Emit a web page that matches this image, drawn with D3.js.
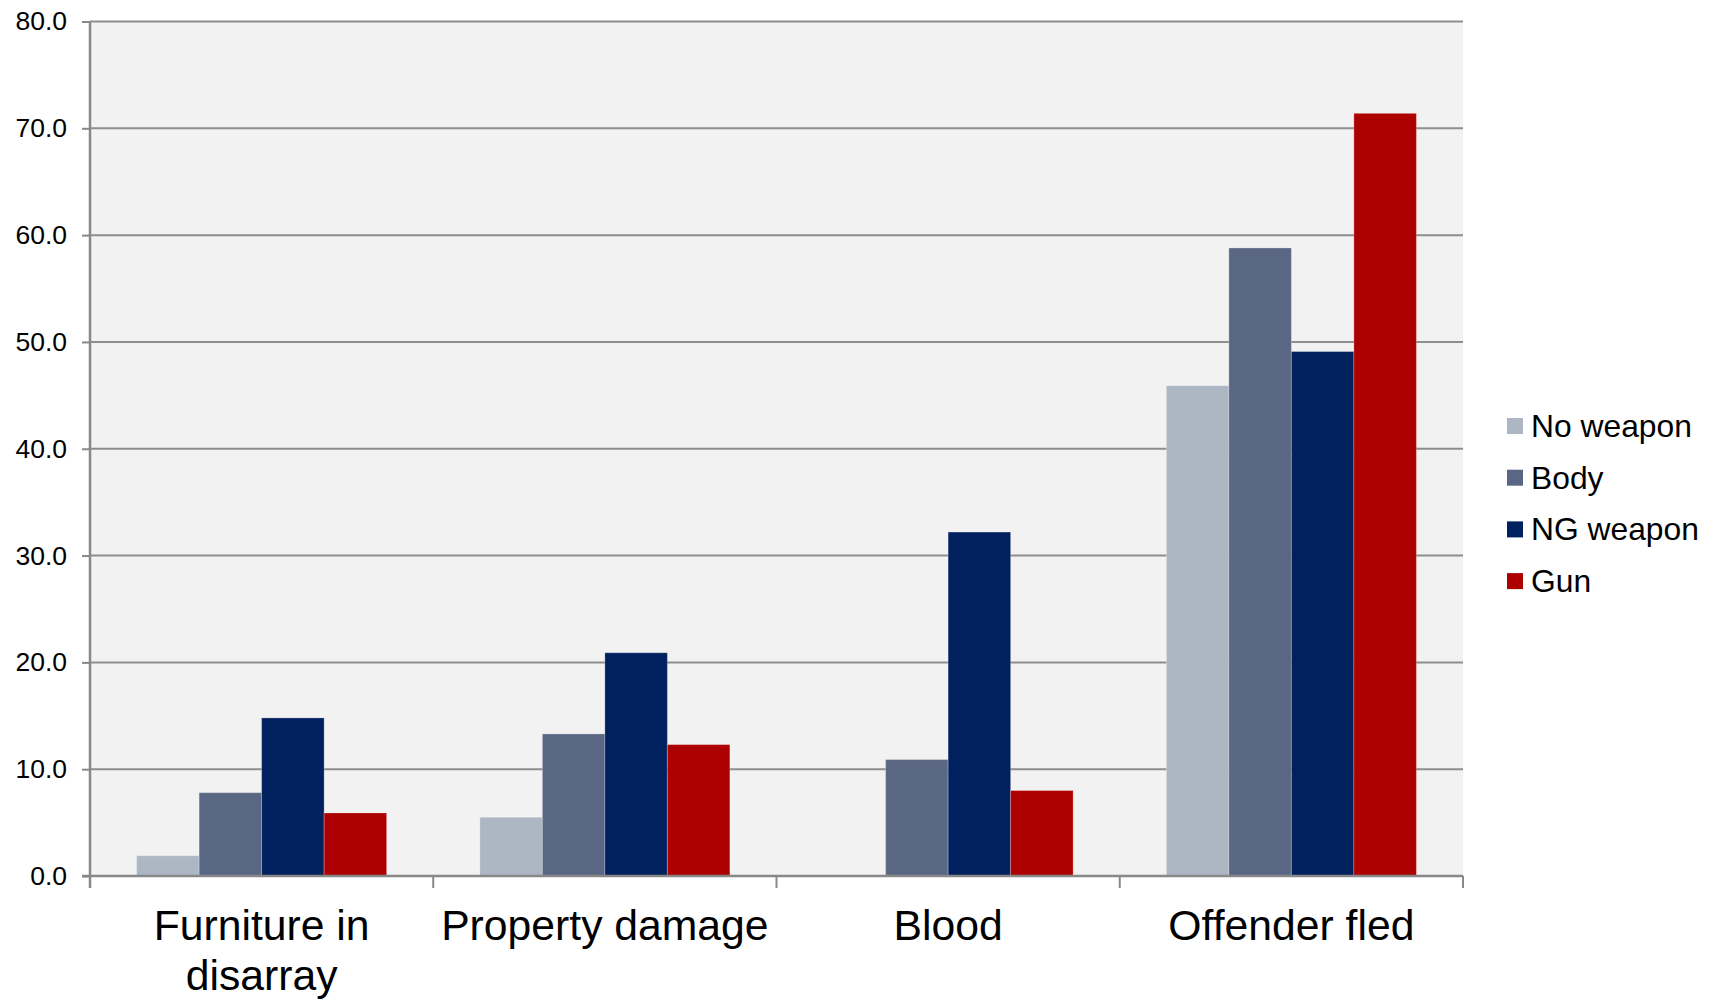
<!DOCTYPE html>
<html>
<head>
<meta charset="utf-8">
<script src="https://cdn.jsdelivr.net/npm/d3@7"></script>
<style>
  html, body { margin: 0; padding: 0; background: #ffffff; }
  svg { display: block; font-family: "Liberation Sans", Arial, sans-serif; }
</style>
</head>
<body>
<svg id="chart" width="1713" height="1000"></svg>
<script>
const categories = [["Furniture in", "disarray"], ["Property damage"], ["Blood"], ["Offender fled"]];
const categoryKeys = ["Furniture in disarray", "Property damage", "Blood", "Offender fled"];
const seriesNames = ["No weapon", "Body", "NG weapon", "Gun"];
const seriesColors = ["#adb7c3", "#5a6784", "#00205e", "#ad0000"];
const noWeapon = [1.9, 5.5, 0, 45.9];
const body = [7.8, 13.3, 10.9, 58.8];
const ngWeapon = [14.8, 20.9, 32.2, 49.1];
const gun = [5.9, 12.3, 8.0, 71.4];
const yTicks = [0, 10, 20, 30, 40, 50, 60, 70, 80];

const seriesValues = [noWeapon, body, ngWeapon, gun];
const data = categoryKeys.map((c, i) => ({
  key: c,
  values: seriesNames.map((s, j) => ({ series: s, value: seriesValues[j][i], color: seriesColors[j] }))
}));

const svg = d3.select("#chart");
const pL = 90, pR = 1463, pT = 21.5, pB = 876;

const x0 = d3.scaleBand().domain(categoryKeys).range([pL, pR]).paddingInner(0).paddingOuter(0);
const x1 = d3.scaleBand().domain(seriesNames).range([0, x0.bandwidth()]).paddingInner(0).paddingOuter(0.746);
const y = d3.scaleLinear().domain([0, 80]).range([pB, pT]);

// plot background
svg.append("rect").attr("x", pL).attr("y", pT).attr("width", pR - pL).attr("height", pB - pT)
  .attr("fill", "#f2f2f2");

// gridlines
svg.append("g").selectAll("line").data(yTicks.filter(d => d > 0)).join("line")
  .attr("x1", pL).attr("x2", pR)
  .attr("y1", d => y(d)).attr("y2", d => y(d))
  .attr("stroke", "#8e8e8e").attr("stroke-width", 2);

// bars
const groups = svg.append("g").selectAll("g").data(data).join("g")
  .attr("transform", d => `translate(${x0(d.key)},0)`);
groups.selectAll("rect").data(d => d.values.filter(v => v.value > 0)).join("rect")
  .attr("x", d => x1(d.series))
  .attr("width", x1.bandwidth())
  .attr("y", d => y(d.value))
  .attr("height", d => y(0) - y(d.value))
  .attr("fill", d => d.color)
  .attr("stroke", "rgba(255,255,255,0.25)")
  .attr("stroke-width", 1);

// y axis
const yAxis = d3.axisLeft(y).tickValues(yTicks).tickFormat(d3.format(".1f")).tickSize(8).tickPadding(15);
const gy = svg.append("g").attr("transform", `translate(${pL},0)`).call(yAxis);
gy.select(".domain").remove();
gy.selectAll(".tick line").attr("stroke", "#888888").attr("stroke-width", 2);
gy.selectAll(".tick text").attr("font-size", 26.5).attr("fill", "#000").attr("font-family", "Liberation Sans, Arial, sans-serif");
svg.append("line").attr("x1", pL).attr("x2", pL).attr("y1", pT).attr("y2", pB + 12)
  .attr("stroke", "#888888").attr("stroke-width", 2.5);

// x axis
svg.append("line").attr("x1", pL - 8).attr("x2", pR).attr("y1", pB).attr("y2", pB)
  .attr("stroke", "#888888").attr("stroke-width", 2.5);
const boundaries = categoryKeys.slice(1).map(k => x0(k)).concat([pR]);
svg.append("g").selectAll("line").data(boundaries).join("line")
  .attr("x1", d => d).attr("x2", d => d).attr("y1", pB).attr("y2", pB + 12)
  .attr("stroke", "#888888").attr("stroke-width", 2);

// category labels
const lbl = svg.append("g").selectAll("text").data(categories).join("text")
  .attr("x", (d, i) => x0(categoryKeys[i]) + x0.bandwidth() / 2)
  .attr("y", 940)
  .attr("text-anchor", "middle")
  .attr("font-size", 42.7)
  .attr("fill", "#000");
lbl.selectAll("tspan").data(d => d).join("tspan")
  .attr("x", function() { return d3.select(this.parentNode).attr("x"); })
  .attr("dy", (d, i) => i === 0 ? 0 : 50)
  .text(d => d);

// legend
const legend = svg.append("g").selectAll("g").data(seriesNames).join("g")
  .attr("transform", (d, i) => `translate(1507,${426 + i * 51.7})`);
legend.append("rect").attr("x", 0).attr("y", -8).attr("width", 16).attr("height", 16)
  .attr("fill", (d, i) => seriesColors[i]);
legend.append("text").attr("x", 24).attr("y", 11).attr("font-size", 31.8).attr("fill", "#000").text(d => d);
</script>
</body>
</html>
